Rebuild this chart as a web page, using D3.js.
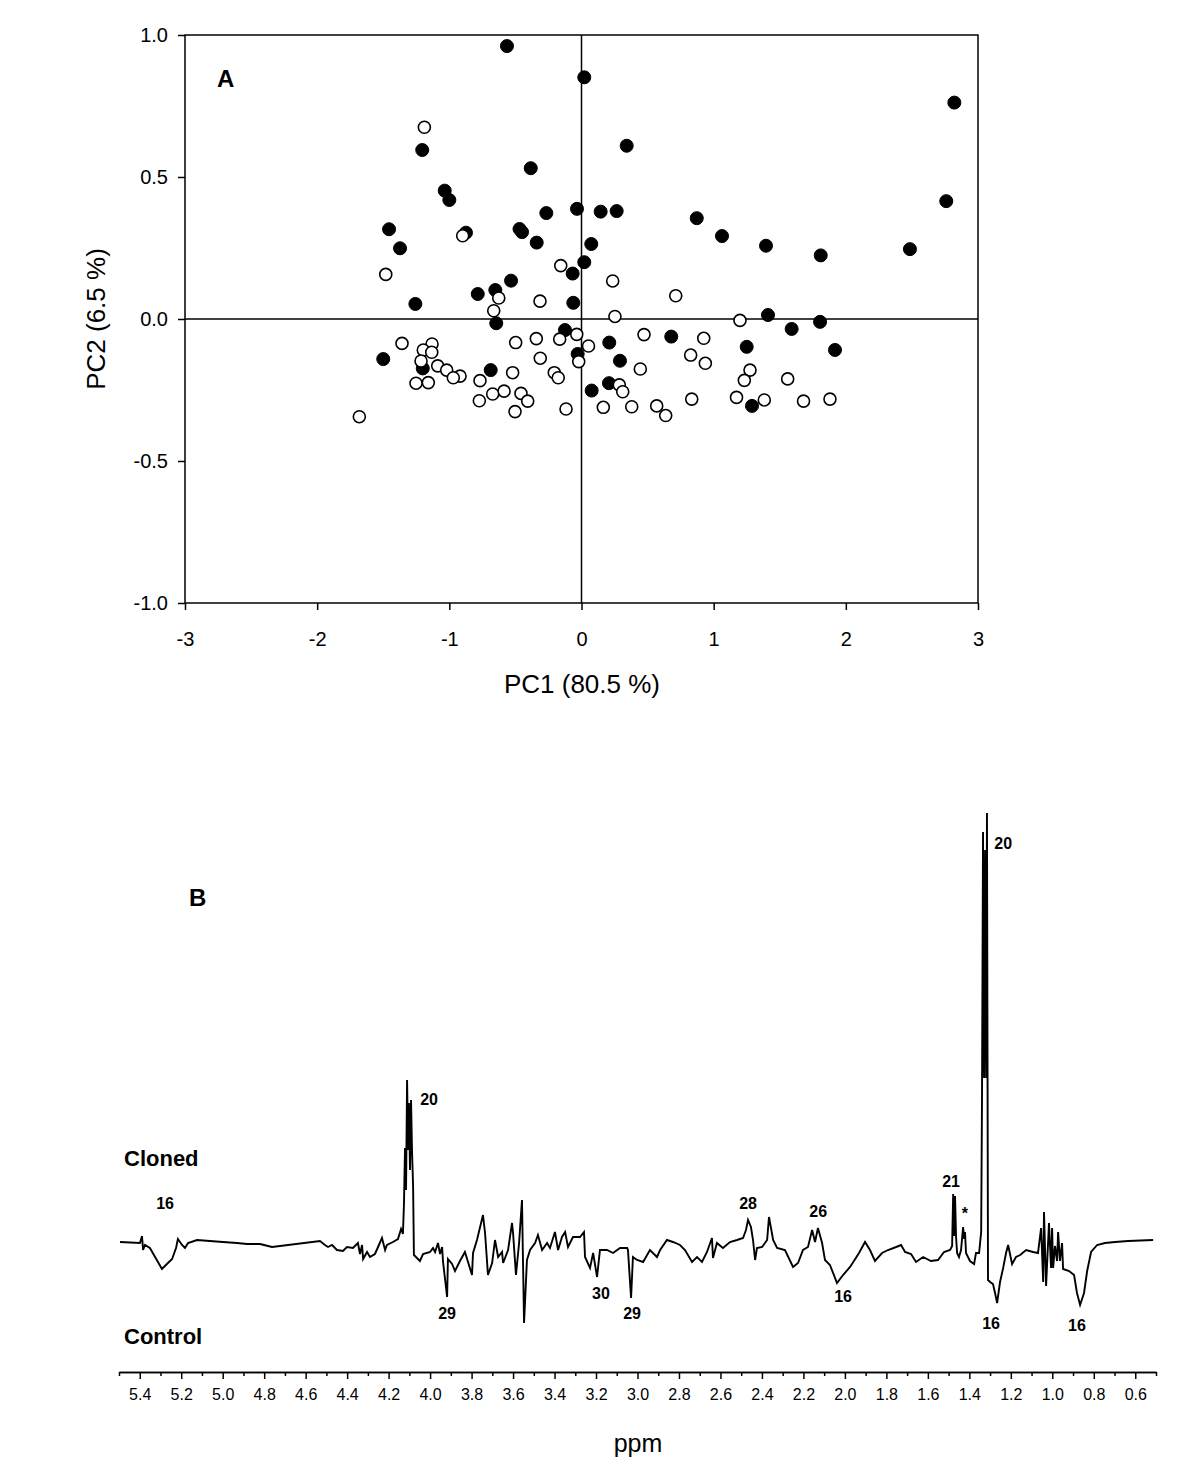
<!DOCTYPE html>
<html><head><meta charset="utf-8">
<script src="https://cdn.jsdelivr.net/npm/d3@7"></script>
<style>body{margin:0;background:#fff} svg{display:block} text{font-family:"Liberation Sans",Arial,Helvetica,sans-serif;fill:#000}</style>
</head><body><svg id="c" width="1200" height="1483"></svg>
<script>
// ---------- Panel A data (PCA scores) ----------
const pc1Filled=[-0.564,0.021,2.821,0.342,-1.205,-0.384,-1.035,-1.000,2.760,-0.034,0.145,0.266,-0.266,0.872,-1.456,-0.469,-0.450,-0.874,1.063,-0.339,0.074,1.396,-1.373,2.485,1.810,0.021,-0.067,-0.533,-0.652,-0.785,-0.062,-1.257,1.411,1.805,-0.645,1.590,-0.125,0.679,0.210,1.250,1.918,-0.029,-1.500,0.291,-1.201,-0.687,0.208,0.077,1.290];
const pc2Filled=[0.961,0.851,0.762,0.610,0.595,0.531,0.452,0.419,0.415,0.388,0.378,0.380,0.373,0.355,0.316,0.317,0.306,0.304,0.292,0.269,0.264,0.258,0.249,0.246,0.224,0.200,0.160,0.135,0.102,0.088,0.057,0.053,0.014,-0.010,-0.015,-0.035,-0.039,-0.062,-0.083,-0.098,-0.109,-0.123,-0.141,-0.147,-0.174,-0.180,-0.226,-0.252,-0.306];
const pc1Open=[-1.189,-0.899,-1.481,-0.157,0.236,-0.626,0.713,-0.314,-0.664,0.253,1.199,-0.036,0.473,0.925,-0.342,-0.165,-0.498,-1.358,-1.131,0.053,-1.197,-1.133,0.826,-0.312,-1.214,-0.021,0.937,-1.088,0.445,-1.020,1.275,-0.521,-0.206,-0.919,-0.970,-0.176,1.560,-0.768,1.232,-1.159,-1.252,0.286,-0.586,0.312,-0.458,-0.672,1.173,0.834,1.880,1.383,-0.773,-0.407,1.680,0.569,0.380,0.165,-0.117,-0.503,0.637,-1.681];
const pc2Open=[0.675,0.293,0.157,0.188,0.134,0.074,0.082,0.063,0.029,0.009,-0.005,-0.054,-0.055,-0.068,-0.069,-0.071,-0.083,-0.086,-0.088,-0.095,-0.109,-0.117,-0.127,-0.138,-0.148,-0.150,-0.156,-0.165,-0.176,-0.180,-0.180,-0.189,-0.189,-0.201,-0.207,-0.207,-0.211,-0.217,-0.216,-0.224,-0.226,-0.232,-0.254,-0.256,-0.262,-0.264,-0.276,-0.282,-0.282,-0.285,-0.288,-0.289,-0.289,-0.306,-0.309,-0.311,-0.317,-0.326,-0.340,-0.344];
const pc1Ticks=[-3,-2,-1,0,1,2,3];
const pc1TickLabels=["-3","-2","-1","0","1","2","3"];
const pc2Ticks=[-1,-0.5,0,0.5,1];
const pc2TickLabels=["-1.0","-0.5","0.0","0.5","1.0"];

// ---------- Panel B data (difference spectrum) ----------
const ppm=[5.495,5.399,5.389,5.384,5.375,5.351,5.326,5.293,5.269,5.244,
5.225,5.216,5.196,5.182,5.167,5.124,5.061,4.999,4.931,4.883,
4.820,4.762,4.531,4.507,4.492,4.473,4.449,4.420,4.401,4.372,
4.348,4.338,4.328,4.323,4.304,4.290,4.266,4.251,4.232,4.217,
4.208,4.179,4.155,4.140,4.131,4.126,4.121,4.116,4.111,4.106,
4.102,4.097,4.092,4.087,4.082,4.078,4.073,4.049,4.034,4.000,
3.986,3.976,3.962,3.952,3.942,3.938,3.918,3.914,3.894,3.880,
3.856,3.832,3.798,3.793,3.774,3.745,3.735,3.721,3.701,3.687,
3.672,3.653,3.648,3.624,3.605,3.600,3.586,3.571,3.557,3.547,
3.533,3.518,3.494,3.480,3.460,3.436,3.422,3.398,3.383,3.364,
3.349,3.335,3.311,3.277,3.258,3.253,3.229,3.214,3.195,3.181,
3.147,3.118,3.084,3.050,3.046,3.031,3.022,3.002,2.973,2.940,
2.906,2.891,2.858,2.829,2.795,2.771,2.737,2.713,2.689,2.665,
2.641,2.636,2.617,2.588,2.554,2.520,2.491,2.477,2.467,2.453,
2.443,2.433,2.424,2.399,2.375,2.366,2.346,2.327,2.289,2.250,
2.226,2.202,2.178,2.158,2.144,2.130,2.110,2.096,2.072,2.038,
2.009,1.975,1.932,1.903,1.879,1.855,1.821,1.792,1.753,1.729,
1.710,1.681,1.657,1.623,1.585,1.551,1.522,1.493,1.483,1.478,
1.474,1.469,1.464,1.459,1.450,1.440,1.430,1.425,1.421,1.416,
1.397,1.377,1.368,1.353,1.343,1.339,1.334,1.329,1.324,1.319,
1.315,1.310,1.300,1.286,1.276,1.266,1.252,1.237,1.223,1.213,
1.194,1.175,1.155,1.126,1.093,1.069,1.054,1.044,1.040,1.030,
1.016,1.006,1.001,0.996,0.987,0.977,0.972,0.963,0.953,0.948,
0.919,0.895,0.881,0.866,0.847,0.832,0.813,0.784,0.746,0.697,
0.635,0.514];
const intensity=[0,-1,6,-8,-3,-6,-15,-27,-22,-17,
-6,3,-3,-6,-1,2,1,0,-1,-2,
-2,-5,1,-3,-5,-3,-8,-9,-5,-6,
-1,-12,-3,-17,-10,-15,-12,-5,4,-8,
-3,0,3,13,8,38,94,52,162,92,
139,72,142,90,56,-13,-14,-19,-12,-10,
-6,-10,-1,-12,-5,-19,-55,-17,-22,-29,
-19,-10,-33,-11,2,27,9,-33,-21,2,
-15,-10,-21,-8,19,9,-33,-1,42,-81,
-18,-8,-1,7,-8,-1,-6,10,-8,5,
10,-5,5,5,10,-15,-26,-11,-35,-8,
-8,-11,-6,-6,-8,-56,-15,-18,-20,-8,
-15,-8,2,0,-3,-8,-20,-15,-20,-10,
4,-16,-1,-6,0,2,4,12,22,15,
2,-18,-6,-5,2,25,2,-6,-8,-25,
-21,-8,-5,12,0,14,-1,-18,-23,-41,
-33,-25,-11,0,-8,-19,-11,-8,-5,-3,
-10,-12,-20,-15,-19,-18,-10,-8,-4,48,
6,46,5,-11,-15,-8,15,3,10,-11,
-19,-22,-11,-11,10,142,410,164,392,164,
429,-38,-40,-42,-51,-61,-40,-26,-11,-3,
-22,-15,-13,-8,-10,-11,14,-40,30,-44,
19,-26,14,-26,-4,-19,10,-19,-1,-27,
-29,-33,-51,-63,-51,-29,-10,-3,-1,0,
1,2];
const peakLabels=["16","20","29","30","29","28","26","16","21","*","20","16","16"];
const peakPpm=[5.278,4.005,3.918,3.176,3.026,2.467,2.129,2.009,1.488,1.421,1.237,1.295,0.881];
const peakInt=[37,141,-73,-53,-73,37,29,-56,59,27,397,-83,-85];
const ppmMajorTicks=[5.4,5.2,5.0,4.8,4.6,4.4,4.2,4.0,3.8,3.6,3.4,3.2,3.0,2.8,2.6,2.4,2.2,2.0,1.8,1.6,1.4,1.2,1.0,0.8,0.6];
const ppmMinorTicks=[5.5,5.3,5.1,4.9,4.7,4.5,4.3,4.1,3.9,3.7,3.5,3.3,3.1,2.9,2.7,2.5,2.3,2.1,1.9,1.7,1.5,1.3,1.1,0.9,0.7,0.5];

const svg=d3.select("#c");

// ================= Panel A =================
const sx=d3.scaleLinear().domain([-3,3]).range([185,978]);
const sy=d3.scaleLinear().domain([-1,1]).range([603,35]);
const gA=svg.append("g");

const axL=gA.append("g").attr("transform","translate(185,0)")
  .call(d3.axisLeft(sy).tickValues(pc2Ticks).tickFormat((d,i)=>pc2TickLabels[i]).tickSize(7).tickPadding(10).tickSizeOuter(0));
const axB=gA.append("g").attr("transform","translate(0,603)")
  .call(d3.axisBottom(sx).tickValues(pc1Ticks).tickFormat((d,i)=>pc1TickLabels[i]).tickSize(7).tickPadding(22).tickSizeOuter(0));
[axL,axB].forEach(a=>{a.select(".domain").remove();a.selectAll("line").attr("stroke","#000").attr("stroke-width",1.5);
  a.selectAll("text").style("font-size","20px").attr("fill","#000");});

gA.append("rect").attr("x",sx(-3)).attr("y",sy(1)).attr("width",sx(3)-sx(-3)).attr("height",sy(-1)-sy(1))
  .attr("fill","none").attr("stroke","#000").attr("stroke-width",1.5);
gA.append("line").attr("x1",sx(0)).attr("x2",sx(0)).attr("y1",sy(1)).attr("y2",sy(-1)).attr("stroke","#000").attr("stroke-width",1.5);
gA.append("line").attr("x1",sx(-3)).attr("x2",sx(3)).attr("y1",sy(0)).attr("y2",sy(0)).attr("stroke","#000").attr("stroke-width",1.5);

const filled=pc1Filled.map((v,i)=>({x:v,y:pc2Filled[i]}));
const open=pc1Open.map((v,i)=>({x:v,y:pc2Open[i]}));
gA.append("g").selectAll("circle").data(filled).join("circle")
  .attr("cx",d=>sx(d.x)).attr("cy",d=>sy(d.y)).attr("r",6.5).attr("fill","#000").attr("stroke","#000").attr("stroke-width",1);
gA.append("g").selectAll("circle").data(open).join("circle")
  .attr("cx",d=>sx(d.x)).attr("cy",d=>sy(d.y)).attr("r",6).attr("fill","#fff").attr("stroke","#000").attr("stroke-width",1.6);

gA.append("text").attr("x",217).attr("y",87).style("font-size","24px").style("font-weight","bold").text("A");
gA.append("text").attr("x",582).attr("y",693).attr("text-anchor","middle").style("font-size","26px").text("PC1 (80.5 %)");
gA.append("text").attr("transform","translate(105,319) rotate(-90)").attr("text-anchor","middle").style("font-size","26px").text("PC2 (6.5 %)");

// ================= Panel B =================
const px=d3.scaleLinear().domain([5.5,0.5]).range([119,1156]);
const py=d3.scaleLinear().domain([-100,450]).range([1342,792]);
const gB=svg.append("g");
const spec=ppm.map((v,i)=>({p:v,v:intensity[i]}));
gB.append("path").datum(spec)
  .attr("d",d3.line().x(d=>px(d.p)).y(d=>py(d.v)))
  .attr("fill","none").attr("stroke","#000").attr("stroke-width",1.9).attr("stroke-linejoin","miter");

const axMinor=gB.append("g").attr("transform","translate(0,1372)")
  .call(d3.axisBottom(px).tickValues(ppmMinorTicks).tickFormat("").tickSize(4).tickSizeOuter(0));
const axMajor=gB.append("g").attr("transform","translate(0,1372)")
  .call(d3.axisBottom(px).tickValues(ppmMajorTicks).tickFormat(d3.format(".1f")).tickSize(7).tickPadding(10).tickSizeOuter(0));
[axMinor,axMajor].forEach(a=>{a.selectAll("path,line").attr("stroke","#000").attr("stroke-width",1.5);
  a.selectAll("text").style("font-size","16px").attr("fill","#000");});

gB.selectAll("text.pk").data(peakLabels).join("text").attr("class","pk")
  .attr("x",(d,i)=>px(peakPpm[i])).attr("y",(d,i)=>py(peakInt[i]))
  .attr("text-anchor","middle").attr("dominant-baseline","middle")
  .style("font-size","16px").style("font-weight","bold").text(d=>d);

gB.append("text").attr("x",189).attr("y",906).style("font-size","24px").style("font-weight","bold").text("B");
gB.append("text").attr("x",124).attr("y",1166).style("font-size","22px").style("font-weight","bold").text("Cloned");
gB.append("text").attr("x",124).attr("y",1344).style("font-size","22px").style("font-weight","bold").text("Control");
gB.append("text").attr("x",638).attr("y",1452).attr("text-anchor","middle").style("font-size","25px").text("ppm");
</script></body></html>
